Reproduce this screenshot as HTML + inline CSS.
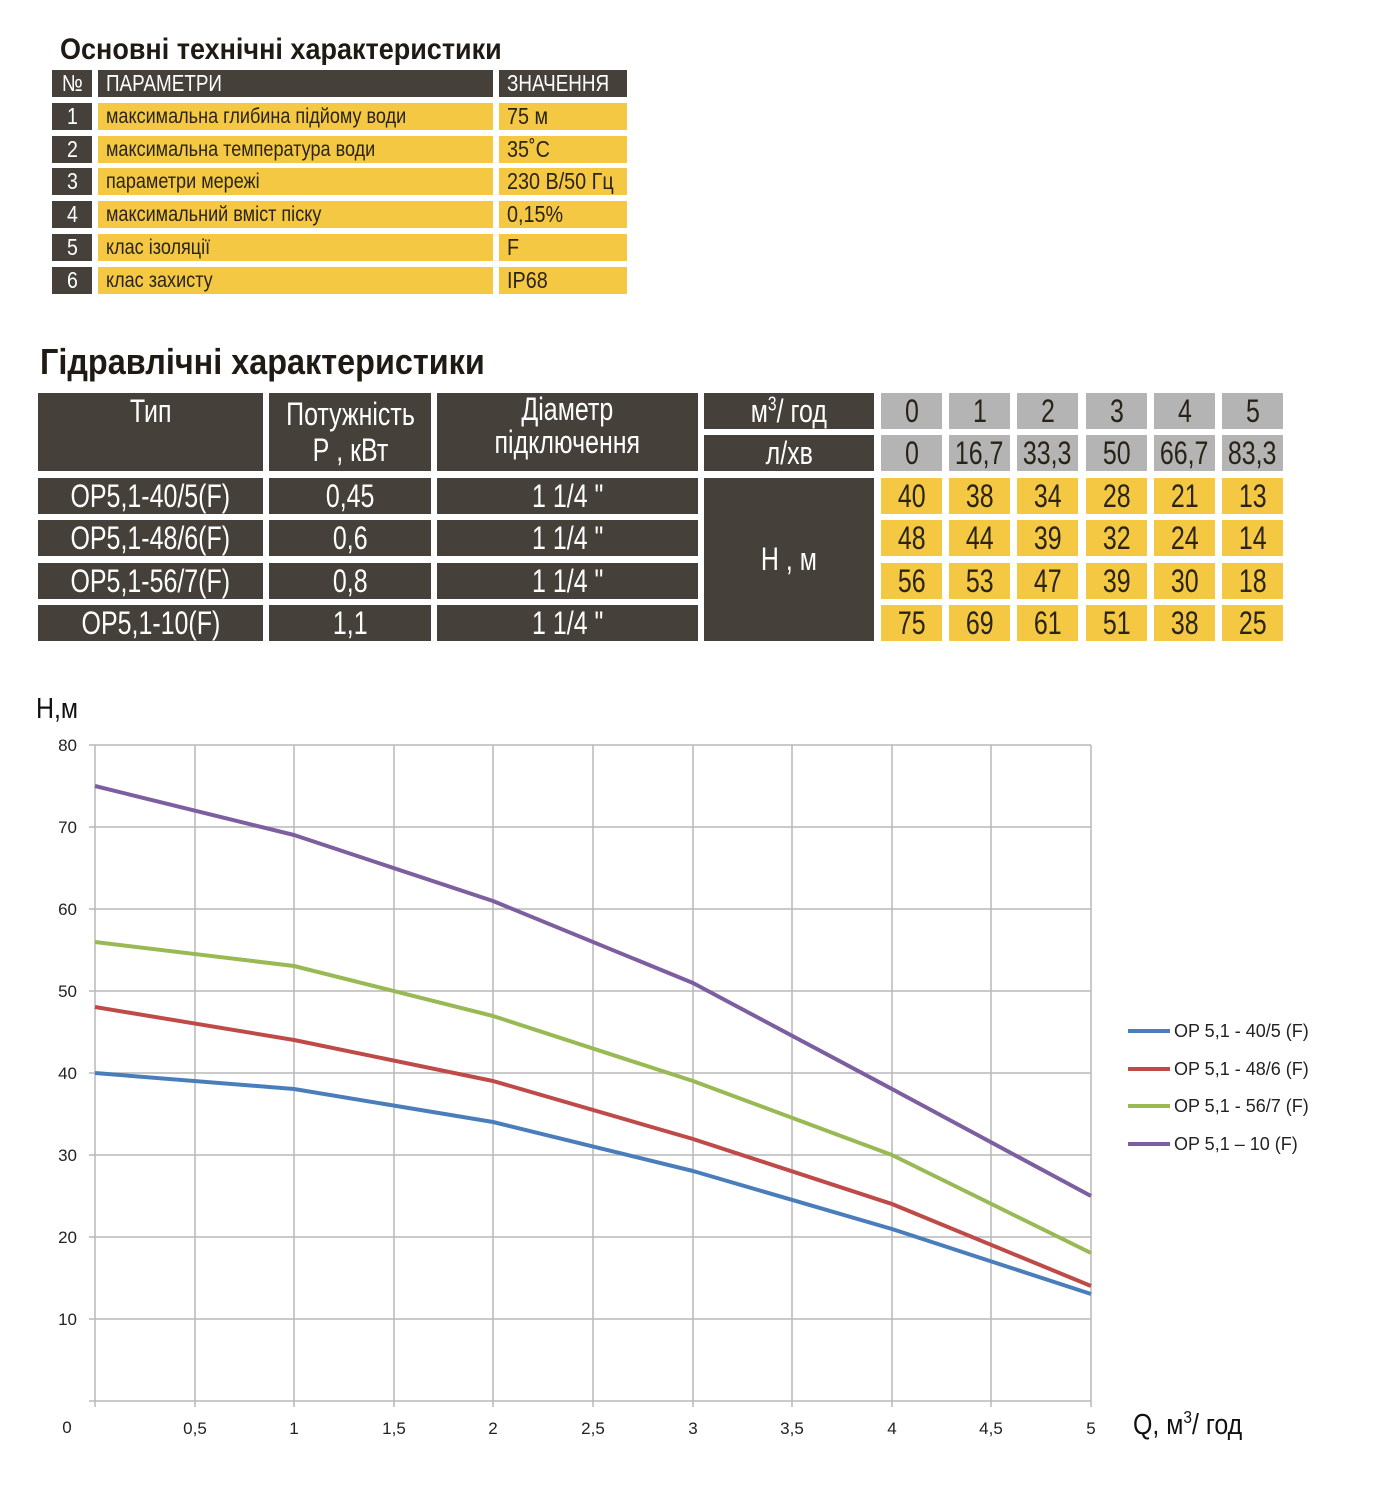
<!DOCTYPE html>
<html><head><meta charset="utf-8"><style>
body{margin:0;background:#fff;width:1387px;height:1500px;position:relative;overflow:hidden;font-family:"Liberation Sans",sans-serif}
.c{position:absolute;box-sizing:border-box;display:flex;align-items:center;white-space:nowrap}
.c span{display:inline-block}
.d{background:#45403a;color:#fff}
.y{background:#f4c842;color:#2a2418}
.g{background:#b4b4b4;color:#2a2418;justify-content:center}
.t1{font-size:21px;padding-left:8px}
.t1 span{transform:scaleX(.86);transform-origin:left center}
.t1.h{font-size:23px}
.t1.h span{transform:scaleX(.82)}
.t1.v{font-size:23px}
.t1.v span{transform:scaleX(.86)}
.t1.n{justify-content:center;padding:0;font-size:23px}
.t1.n span{transform:scaleX(.85);transform-origin:center}
.t2{font-size:32px;justify-content:center;text-align:center}
.t2 span{transform:scaleX(.78);transform-origin:center}
h1{position:absolute;margin:0;font-weight:bold;color:#1f1a14;white-space:nowrap;transform-origin:left top}
</style></head><body>
<h1 style="left:60px;top:33px;font-size:30px;transform:scaleX(.9)">Основні технічні характеристики</h1>
<div class="c d t1 n" style="left:52px;top:70px;width:40px;height:27px"><span>№</span></div>
<div class="c d t1 h" style="left:98px;top:70px;width:395px;height:27px"><span>ПАРАМЕТРИ</span></div>
<div class="c d t1 h" style="left:499px;top:70px;width:128px;height:27px"><span>ЗНАЧЕННЯ</span></div>

<div class="c d t1 n" style="left:52px;top:103px;width:40px;height:27px"><span>1</span></div>
<div class="c y t1" style="left:98px;top:103px;width:395px;height:27px"><span>максимальна глибина підйому води</span></div>
<div class="c y t1 v" style="left:499px;top:103px;width:128px;height:27px"><span>75 м</span></div>
<div class="c d t1 n" style="left:52px;top:136px;width:40px;height:27px"><span>2</span></div>
<div class="c y t1" style="left:98px;top:136px;width:395px;height:27px"><span>максимальна температура води</span></div>
<div class="c y t1 v" style="left:499px;top:136px;width:128px;height:27px"><span>35˚C</span></div>
<div class="c d t1 n" style="left:52px;top:168px;width:40px;height:27px"><span>3</span></div>
<div class="c y t1" style="left:98px;top:168px;width:395px;height:27px"><span>параметри мережі</span></div>
<div class="c y t1 v" style="left:499px;top:168px;width:128px;height:27px"><span>230 В/50 Гц</span></div>
<div class="c d t1 n" style="left:52px;top:201px;width:40px;height:27px"><span>4</span></div>
<div class="c y t1" style="left:98px;top:201px;width:395px;height:27px"><span>максимальний вміст піску</span></div>
<div class="c y t1 v" style="left:499px;top:201px;width:128px;height:27px"><span>0,15%</span></div>
<div class="c d t1 n" style="left:52px;top:234px;width:40px;height:27px"><span>5</span></div>
<div class="c y t1" style="left:98px;top:234px;width:395px;height:27px"><span>клас ізоляції</span></div>
<div class="c y t1 v" style="left:499px;top:234px;width:128px;height:27px"><span>F</span></div>
<div class="c d t1 n" style="left:52px;top:267px;width:40px;height:27px"><span>6</span></div>
<div class="c y t1" style="left:98px;top:267px;width:395px;height:27px"><span>клас захисту</span></div>
<div class="c y t1 v" style="left:499px;top:267px;width:128px;height:27px"><span>IP68</span></div>

<h1 style="left:40px;top:341px;font-size:36px;transform:scaleX(.9)">Гідравлічні характеристики</h1>

<div class="c d t2" style="left:38px;top:393px;width:225px;height:78px;align-items:flex-start"><span>Тип</span></div>
<div class="c d t2" style="left:269px;top:393px;width:162px;height:78px;line-height:36px"><span>Потужність<br>Р , кВт</span></div>
<div class="c d t2" style="left:437px;top:393px;width:261px;height:78px;line-height:33px;align-items:flex-start"><span>Діаметр<br>підключення</span></div>
<div class="c d t2" style="left:704px;top:393px;width:170px;height:36px"><span>м<sup style="font-size:20px">3</sup>/ год</span></div>
<div class="c d t2" style="left:704px;top:435px;width:170px;height:36px"><span>л/хв</span></div>
<div class="c d t2" style="left:704px;top:478px;width:170px;height:163px"><span>Н , м</span></div>

<div class="c d t2" style="left:38px;top:478px;width:225px;height:36px"><span>OP5,1-40/5(F)</span></div>
<div class="c d t2" style="left:269px;top:478px;width:162px;height:36px"><span>0,45</span></div>
<div class="c d t2" style="left:437px;top:478px;width:261px;height:36px"><span>1 1/4 "</span></div>
<div class="c d t2" style="left:38px;top:520px;width:225px;height:36px"><span>OP5,1-48/6(F)</span></div>
<div class="c d t2" style="left:269px;top:520px;width:162px;height:36px"><span>0,6</span></div>
<div class="c d t2" style="left:437px;top:520px;width:261px;height:36px"><span>1 1/4 "</span></div>
<div class="c d t2" style="left:38px;top:563px;width:225px;height:36px"><span>OP5,1-56/7(F)</span></div>
<div class="c d t2" style="left:269px;top:563px;width:162px;height:36px"><span>0,8</span></div>
<div class="c d t2" style="left:437px;top:563px;width:261px;height:36px"><span>1 1/4 "</span></div>
<div class="c d t2" style="left:38px;top:605px;width:225px;height:36px"><span>OP5,1-10(F)</span></div>
<div class="c d t2" style="left:269px;top:605px;width:162px;height:36px"><span>1,1</span></div>
<div class="c d t2" style="left:437px;top:605px;width:261px;height:36px"><span>1 1/4 "</span></div>

<div id="nums"></div>
<script>
var xs=[881,949,1017,1086,1154,1222];
var rows=[[393,'g',['0','1','2','3','4','5']],[435,'g',['0','16,7','33,3','50','66,7','83,3']],
[478,'y',['40','38','34','28','21','13']],[520,'y',['48','44','39','32','24','14']],
[563,'y',['56','53','47','39','30','18']],[605,'y',['75','69','61','51','38','25']]];
var h='';
rows.forEach(function(r){xs.forEach(function(x,i){h+='<div class="c '+r[1]+' t2" style="left:'+x+'px;top:'+r[0]+'px;width:61px;height:36px"><span>'+r[2][i]+'</span></div>';});});
document.getElementById('nums').innerHTML=h;
</script>

<svg style="position:absolute;left:0;top:0" width="1387" height="1500" font-family="Liberation Sans, sans-serif">
<text x="36" y="718" font-size="29" fill="#111" transform="translate(36 0) scale(.86 1) translate(-36 0)">Н,м</text>
<g stroke="#b8b8b8" stroke-width="1.5">
<line x1="89" y1="745" x2="1091" y2="745"/><line x1="89" y1="827" x2="1091" y2="827"/>
<line x1="89" y1="909" x2="1091" y2="909"/><line x1="89" y1="991" x2="1091" y2="991"/>
<line x1="89" y1="1073" x2="1091" y2="1073"/><line x1="89" y1="1155" x2="1091" y2="1155"/>
<line x1="89" y1="1237" x2="1091" y2="1237"/><line x1="89" y1="1319" x2="1091" y2="1319"/>
<line x1="89" y1="1401" x2="1091" y2="1401"/>
<line x1="95" y1="745" x2="95" y2="1407"/><line x1="195" y1="745" x2="195" y2="1407"/>
<line x1="294" y1="745" x2="294" y2="1407"/><line x1="394" y1="745" x2="394" y2="1407"/>
<line x1="493" y1="745" x2="493" y2="1407"/><line x1="593" y1="745" x2="593" y2="1407"/>
<line x1="693" y1="745" x2="693" y2="1407"/><line x1="792" y1="745" x2="792" y2="1407"/>
<line x1="892" y1="745" x2="892" y2="1407"/><line x1="991" y1="745" x2="991" y2="1407"/>
<line x1="1091" y1="745" x2="1091" y2="1407"/>
</g>
<g font-size="17" fill="#222" text-anchor="end">
<text x="77" y="751">80</text><text x="77" y="833">70</text><text x="77" y="915">60</text>
<text x="77" y="997">50</text><text x="77" y="1079">40</text><text x="77" y="1161">30</text>
<text x="77" y="1243">20</text><text x="77" y="1325">10</text>
</g>
<g font-size="17" fill="#222" text-anchor="middle">
<text x="67" y="1433">0</text><text x="195" y="1434">0,5</text><text x="294" y="1434">1</text>
<text x="394" y="1434">1,5</text><text x="493" y="1434">2</text><text x="593" y="1434">2,5</text>
<text x="693" y="1434">3</text><text x="792" y="1434">3,5</text><text x="892" y="1434">4</text>
<text x="991" y="1434">4,5</text><text x="1091" y="1434">5</text>
</g>
<text x="1133" y="1434" font-size="29" fill="#111" transform="translate(1133 0) scale(.86 1) translate(-1133 0)">Q,  м<tspan font-size="18" dy="-11">3</tspan><tspan dy="11">/ год</tspan></text>
<g fill="none" stroke-width="4" stroke-linejoin="round">
<polyline stroke="#4a7ebb" points="95,1073 294,1089 493,1122 693,1171 892,1229 1091,1294"/>
<polyline stroke="#be4b48" points="95,1007 294,1040 493,1081 693,1139 892,1204 1091,1286"/>
<polyline stroke="#98b954" points="95,942 294,966 493,1016 693,1081 892,1155 1091,1253"/>
<polyline stroke="#7d5fa0" points="95,786 294,835 493,901 693,983 892,1089 1091,1196"/>
</g>
<g stroke-width="4">
<line x1="1128" y1="1031" x2="1170" y2="1031" stroke="#4a7ebb"/>
<line x1="1128" y1="1069" x2="1170" y2="1069" stroke="#be4b48"/>
<line x1="1128" y1="1106" x2="1170" y2="1106" stroke="#98b954"/>
<line x1="1128" y1="1144" x2="1170" y2="1144" stroke="#7d5fa0"/>
</g>
<g font-size="18" fill="#222">
<text x="1174" y="1037">OP 5,1 - 40/5 (F)</text>
<text x="1174" y="1075">OP 5,1 - 48/6 (F)</text>
<text x="1174" y="1112">OP 5,1 - 56/7 (F)</text>
<text x="1174" y="1150">OP 5,1 – 10 (F)</text>
</g>
</svg>
</body></html>
